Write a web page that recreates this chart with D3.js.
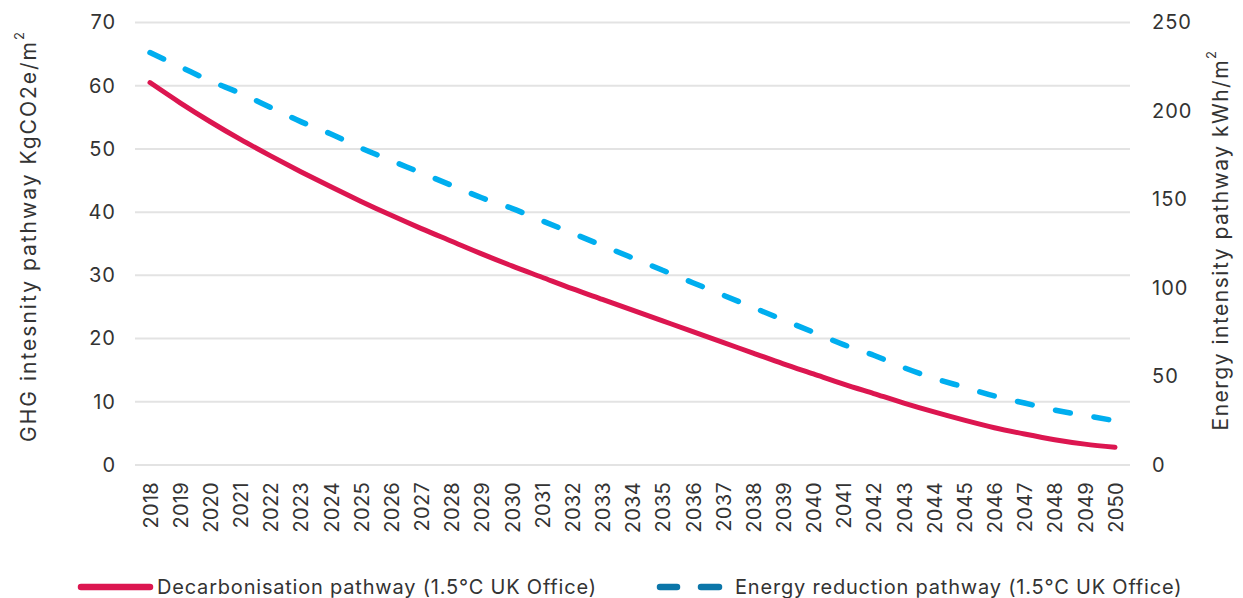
<!DOCTYPE html>
<html>
<head>
<meta charset="utf-8">
<script src="https://cdn.jsdelivr.net/npm/d3@7"></script>
<style>
  html, body { margin: 0; padding: 0; background: #fff; }
  svg { display: block; font-family: Inter, "Noto Sans", sans-serif; }
</style>
</head>
<body>
<svg id="chart" width="1243" height="598"></svg>
<script>
const years = ["2018","2019","2020","2021","2022","2023","2024","2025","2026","2027","2028","2029","2030","2031","2032","2033","2034","2035","2036","2037","2038","2039","2040","2041","2042","2043","2044","2045","2046","2047","2048","2049","2050"];
const ghgValues = [60.5,57.3,54.3,51.5,48.9,46.4,44.0,41.7,39.5,37.4,35.4,33.4,31.5,29.7,27.9,26.2,24.5,22.8,21.1,19.4,17.7,16.0,14.4,12.8,11.3,9.8,8.4,7.1,5.9,4.9,4.0,3.3,2.8];
const energyValues = [233,225,217,210,202,194,187,179,172,165,158,151,145,138,131,124,117,110,103,96,89,82,75,68,62,55,49,44,39,35,31,28,25];
const leftTicks = [0,10,20,30,40,50,60,70];
const rightTicks = [0,50,100,150,200,250];
const leftTitle = "GHG intesnity pathway KgCO2e/m";
const rightTitle = "Energy intensity pathway kWh/m";
const legendLabels = ["Decarbonisation pathway (1.5°C UK Office)", "Energy reduction pathway (1.5°C UK Office)"];

const svg = d3.select("#chart");
const textColor = "#333333";
const gridColor = "#e3e3e3";
const red = "#dc1650";
const blue = "#00aeef";
const legendBlue = "#0b76a9";

const x = d3.scalePoint().domain(years).range([150, 1115]);
const yL = d3.scaleLinear().domain([0, 70]).range([465, 22.5]);
const yR = d3.scaleLinear().domain([0, 250]).range([465, 22.5]);
const gridX0 = 135, gridX1 = 1130;

// gridlines
svg.append("g").selectAll("line").data(leftTicks).join("line")
  .attr("x1", gridX0).attr("x2", gridX1)
  .attr("y1", d => yL(d)).attr("y2", d => yL(d))
  .attr("stroke", gridColor).attr("stroke-width", 2);

// left axis labels
const leftAxis = d3.axisLeft(yL).tickValues(leftTicks).tickSize(0).tickPadding(0);
const gL = svg.append("g").attr("transform", "translate(116,0)").call(leftAxis);
gL.select(".domain").remove();
gL.selectAll("text").attr("font-size", 20).attr("fill", textColor)
  .attr("font-family", "Inter").attr("letter-spacing", 1);

// right axis labels
const rightAxis = d3.axisRight(yR).tickValues(rightTicks).tickSize(0).tickPadding(0);
const gR = svg.append("g").attr("transform", "translate(1152,0)").call(rightAxis);
gR.select(".domain").remove();
gR.selectAll("text").attr("font-size", 20).attr("fill", textColor)
  .attr("font-family", "Inter").attr("letter-spacing", 1);

// x axis labels (rotated)
const xAxis = d3.axisBottom(x).tickSize(0).tickPadding(0);
const gX = svg.append("g").attr("transform", "translate(0,482)").call(xAxis);
gX.select(".domain").remove();
gX.selectAll("text")
  .attr("font-size", 20).attr("fill", textColor).attr("font-family", "Inter")
  .attr("letter-spacing", 0.3)
  .attr("text-anchor", "end")
  .attr("transform", "rotate(-90)")
  .attr("x", 0).attr("y", 0).attr("dy", "0.36em");

// axis titles
const lt = svg.append("text")
  .attr("transform", "translate(36," + 236 + ") rotate(-90)")
  .attr("text-anchor", "middle")
  .attr("font-size", 21).attr("letter-spacing", 2).attr("fill", textColor);
lt.append("tspan").text(leftTitle);
lt.append("tspan").attr("font-size", 13).attr("dy", "-0.9em").text("2");

const rt = svg.append("text")
  .attr("transform", "translate(1228," + 240 + ") rotate(-90)")
  .attr("text-anchor", "middle")
  .attr("font-size", 21).attr("letter-spacing", 1.5).attr("fill", textColor);
rt.append("tspan").text(rightTitle);
rt.append("tspan").attr("font-size", 13).attr("dy", "-0.9em").text("2");

// lines
const ghgLine = d3.line().x((d, i) => x(years[i])).y(d => yL(d)).curve(d3.curveMonotoneX);
const energyLine = d3.line().x((d, i) => x(years[i])).y(d => yR(d)).curve(d3.curveMonotoneX);

svg.append("path").datum(energyValues).attr("d", energyLine)
  .attr("fill", "none").attr("stroke", blue).attr("stroke-width", 5.5)
  .attr("stroke-linecap", "round").attr("stroke-dasharray", "15,24");

svg.append("path").datum(ghgValues).attr("d", ghgLine)
  .attr("fill", "none").attr("stroke", red).attr("stroke-width", 5)
  .attr("stroke-linecap", "round");

// legend
const ly = 587;
svg.append("line").attr("x1", 81).attr("x2", 150).attr("y1", ly).attr("y2", ly)
  .attr("stroke", red).attr("stroke-width", 6.5).attr("stroke-linecap", "round");
svg.append("text").attr("x", 157).attr("y", ly).attr("dy", "0.36em")
  .attr("font-size", 20).attr("letter-spacing", 0.8).attr("fill", textColor).text(legendLabels[0]);

[[660, 677], [701, 719]].forEach(s => {
  svg.append("line").attr("x1", s[0]).attr("x2", s[1]).attr("y1", ly).attr("y2", ly)
    .attr("stroke", legendBlue).attr("stroke-width", 6.5).attr("stroke-linecap", "round");
});
svg.append("text").attr("x", 735).attr("y", ly).attr("dy", "0.36em")
  .attr("font-size", 20).attr("letter-spacing", 0.8).attr("fill", textColor).text(legendLabels[1]);
</script>
</body>
</html>
